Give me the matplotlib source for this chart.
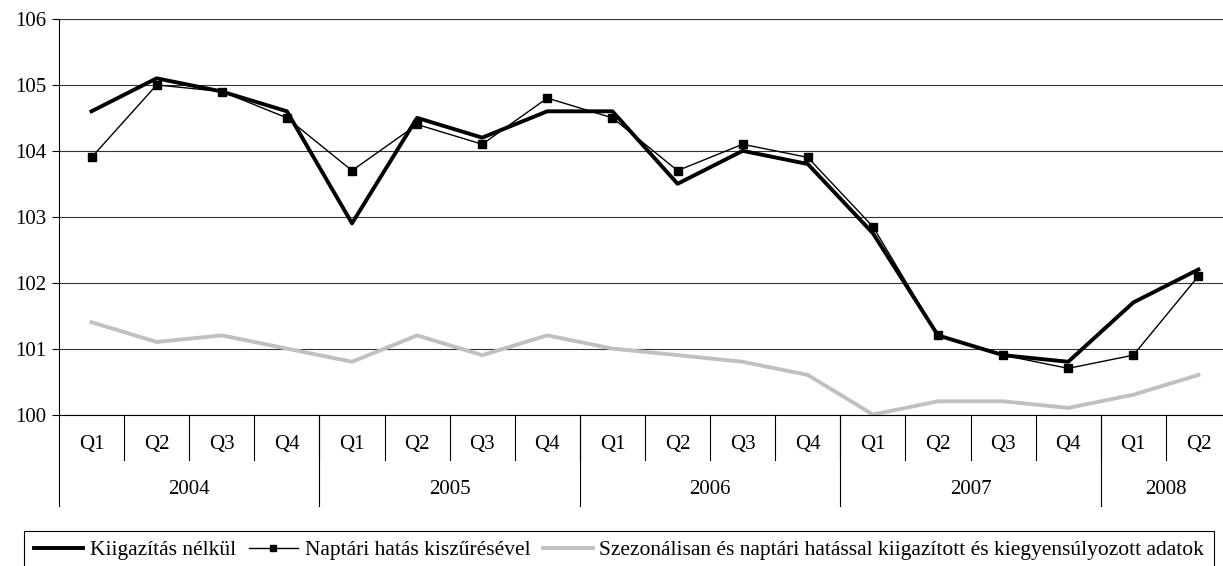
import matplotlib.pyplot as plt

plt.rcParams['font.family'] = ['Liberation Serif', 'DejaVu Serif']

quarters = ["Q1", "Q2", "Q3", "Q4"] * 4 + ["Q1", "Q2"]
years = ["2004", "2005", "2006", "2007", "2008"]
year_len = [4, 4, 4, 4, 2]

kiigazitas_nelkul = [104.6, 105.1, 104.9, 104.6, 102.9, 104.5, 104.2, 104.6, 104.6,
                     103.5, 104.0, 103.8, 102.75, 101.2, 100.9, 100.8, 101.7, 102.2]
naptari = [103.9, 105.0, 104.9, 104.5, 103.7, 104.4, 104.1, 104.8, 104.5,
           103.7, 104.1, 103.9, 102.85, 101.2, 100.9, 100.7, 100.9, 102.1]
szezonalis = [101.4, 101.1, 101.2, 101.0, 100.8, 101.2, 100.9, 101.2, 101.0,
              100.9, 100.8, 100.6, 100.0, 100.2, 100.2, 100.1, 100.3, 100.6]

labels = ["Kiigazítás nélkül", "Naptári hatás kiszűrésével",
          "Szezonálisan és naptári hatással kiigazított és kiegyensúlyozott adatok"]


def main():
    W, H = 1223, 566
    fig = plt.figure(figsize=(W / 100, H / 100), dpi=100)
    # axes in pixel terms: left 59, right ~1231 (cut off), top 19, bottom 414
    left, right, top, bottom = 59, 1231, 19, 414.5
    ax = fig.add_axes([left / W, 1 - bottom / H, (right - left) / W, (bottom - top) / H])

    x = [i + 0.5 for i in range(len(quarters))]
    ax.plot(x, szezonalis, color="#c0c0c0", lw=2.8, label=labels[2], zorder=2)
    ax.plot(x, kiigazitas_nelkul, color="black", lw=2.8, label=labels[0], zorder=3)
    ax.plot(x, naptari, color="black", lw=1.0, marker="s", markersize=5.5,
            label=labels[1], zorder=4)

    ax.set_xlim(0, len(quarters))
    ax.set_ylim(100, 106)
    ax.set_yticks(range(100, 107))
    ax.tick_params(axis='y', labelsize=15, length=5, width=0.8, pad=4, direction='out')
    ax.set_xticks([])
    ax.grid(axis='y', color="#333333", lw=0.8)
    ax.set_axisbelow(True)
    for s in ("top", "right"):
        ax.spines[s].set_visible(False)
    ax.spines["left"].set_linewidth(0.8)
    ax.spines["bottom"].set_linewidth(0.8)

    # multi-level category axis
    trans = ax.get_xaxis_transform()
    axh = bottom - top
    q_bot = -(460 - bottom) / axh
    y_bot = -(505.5 - bottom) / axh
    q_lab = -(445 - bottom) / axh
    y_lab = -(490 - bottom) / axh
    for i, q in enumerate(quarters):
        ax.text(i + 0.5, q_lab, q, transform=trans, ha='center', va='center', fontsize=15)
    for i in range(1, len(quarters)):
        ax.plot([i, i], [0, q_bot], transform=trans, color="black", lw=0.8, clip_on=False)
    start = 0
    for yr, n in zip(years, year_len):
        ax.plot([start, start], [0, y_bot], transform=trans, color="black", lw=0.8, clip_on=False)
        ax.text(start + n / 2, y_lab, yr, transform=trans, ha='center', va='center', fontsize=15)
        start += n

    handles, labs = ax.get_legend_handles_labels()
    order = [1, 2, 0]
    leg = fig.legend([handles[i] for i in order], [labs[i] for i in order],
                     loc='upper left', bbox_to_anchor=(24 / W, 1 - 530.5 / H),
                     ncol=3, fontsize=15.5, frameon=True, fancybox=False,
                     edgecolor="black", framealpha=1, borderpad=0.45,
                     handlelength=2.3, handletextpad=0.3, columnspacing=0.6,
                     markerscale=0.8, borderaxespad=0)
    leg.get_frame().set_linewidth(0.8)

    fig.savefig("out.png", dpi=100)


if __name__ == "__main__":
    main()
